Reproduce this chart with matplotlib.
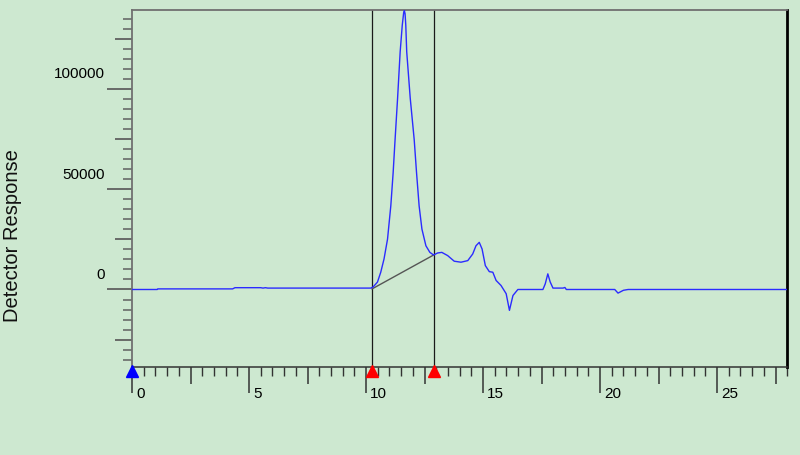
import matplotlib
matplotlib.use('Agg')
import matplotlib.pyplot as plt
import matplotlib.transforms as mtransforms
from matplotlib.ticker import MultipleLocator, FuncFormatter

# ========== Data ==========
# retention time (min)
time_min = [0.0, 1.08, 1.10, 4.30, 4.40, 5.50, 5.60, 5.70, 5.80, 9.60,
            10.20, 10.30, 10.49, 10.63, 10.77, 10.92, 11.06, 11.16, 11.23,
            11.35, 11.46, 11.55, 11.61, 11.64, 11.67, 11.70, 11.74, 11.89,
            12.06, 12.16, 12.27, 12.39, 12.56, 12.73, 12.89, 13.06, 13.24,
            13.49, 13.77, 14.06, 14.35, 14.56, 14.70, 14.84, 14.96, 15.10,
            15.27, 15.42, 15.56, 15.77, 15.99, 16.13, 16.28, 16.49, 17.56,
            17.66, 17.77, 17.87, 17.99, 18.42, 18.50, 18.56, 20.40, 20.63,
            20.77, 21.00, 21.20, 28.0]
# detector response
response = [0, 0, 300, 300, 900, 900, 700, 900, 700, 700,
            700, 1200, 3700, 8600, 15200, 25100, 41700, 58200, 72300,
            95400, 118500, 131800, 138000, 139000, 137500, 131800, 118500, 95400,
            74700, 58200, 41700, 30100, 21800, 18500, 17200, 18200, 18500,
            16900, 14100, 13600, 14400, 17700, 21800, 23500, 20200, 11900,
            8900, 8600, 4500, 2000, -2100, -10400, -3000, 0, 0,
            2800, 7800, 3800, 700, 700, 1000, 0, 0, 0,
            -1800, -400, 0, 0]

# integration markers
peak_start = 10.26
peak_end = 12.89
baseline_y = [300, 17200]
inject_time = 0.0

x_labels = {0: "0", 5: "5", 10: "10", 15: "15", 20: "20", 25: "25"}
y_labels = {0: "0", 50000: "50000", 100000: "100000"}

# ========== Figure ==========
bg = '#cde8d0'
plt.rcParams['font.family'] = ['Liberation Sans', 'DejaVu Sans']

fig = plt.figure(figsize=(8, 4.56), dpi=100, facecolor=bg)
ax = fig.add_axes([0.165, 0.1936, 0.819, 0.783])
ax.set_facecolor(bg)

ax.plot(time_min, response, color='#2b2bff', lw=1.0, zorder=3)

# peak limits and drawn baseline
ax.axvline(peak_start, color='#1a1a1a', lw=0.9, zorder=2)
ax.axvline(peak_end, color='#1a1a1a', lw=0.9, zorder=2)
ax.plot([peak_start, peak_end], baseline_y, color='#555555', lw=1.0, zorder=2)

ax.set_xlim(0, 28)
ax.set_ylim(-38500, 139500)

# triangle markers sitting on the time axis
trans = mtransforms.blended_transform_factory(ax.transData, ax.transAxes)
ax.plot([inject_time], [-0.013], marker='^', color='#0000ff', ms=8,
        transform=trans, clip_on=False, zorder=5)
ax.plot([peak_start, peak_end], [-0.013, -0.013], marker='^', ls='none',
        color='#ff0000', ms=8, transform=trans, clip_on=False, zorder=5)

# spines
for side in ['left', 'top']:
    ax.spines[side].set_color('#707070')
    ax.spines[side].set_linewidth(1.3)
ax.spines['bottom'].set_color('#333333')
ax.spines['bottom'].set_linewidth(1.1)
ax.spines['right'].set_color('black')
ax.spines['right'].set_linewidth(2.0)

# x ticks: long every 5, medium every 2.5, short every 0.5
ax.xaxis.set_major_locator(MultipleLocator(2.5))
ax.xaxis.set_minor_locator(MultipleLocator(0.5))
ax.xaxis.set_major_formatter(FuncFormatter(
    lambda v, p: x_labels.get(int(round(v)), "") if abs(v - round(v)) < 1e-6 else ""))
ax.tick_params(axis='x', which='major', length=12.2, width=1.1, color='#333333',
               labelsize=11, pad=1.5)
ax.tick_params(axis='x', which='minor', length=6.5, width=1.0, color='#333333')

# y ticks: long every 50000, medium every 25000, short every 5000
ax.yaxis.set_major_locator(MultipleLocator(25000))
ax.yaxis.set_minor_locator(MultipleLocator(5000))
ax.yaxis.set_major_formatter(FuncFormatter(
    lambda v, p: y_labels.get(int(round(v)), "")))
ax.tick_params(axis='y', which='major', length=12.2, width=1.3, color='#606060',
               labelsize=11, pad=7.2)
ax.tick_params(axis='y', which='minor', length=6.5, width=1.1, color='#606060')

fig.canvas.draw()

for tick in ax.xaxis.get_major_ticks():
    if abs(tick.get_loc() / 5 - round(tick.get_loc() / 5)) < 1e-6:
        tick.tick1line.set_markersize(18.7)
for tick in ax.yaxis.get_major_ticks():
    if abs(tick.get_loc() / 50000 - round(tick.get_loc() / 50000)) < 1e-6:
        tick.tick1line.set_markersize(18.0)

# labels sit right of / above their long ticks
x_shift = mtransforms.ScaledTranslation(4 / 100, 0, fig.dpi_scale_trans)
for lab in ax.get_xticklabels():
    lab.set_horizontalalignment('left')
    lab.set_transform(lab.get_transform() + x_shift)
y_shift = mtransforms.ScaledTranslation(0, 17 / 100, fig.dpi_scale_trans)
for lab in ax.get_yticklabels():
    lab.set_transform(lab.get_transform() + y_shift)

fig.text(13 / 800, 1 - 235.5 / 456, "Detector Response", rotation=90,
         ha='center', va='center', fontsize=14.5, color='#111111')

fig.savefig('out.png', dpi=100, facecolor=bg)
